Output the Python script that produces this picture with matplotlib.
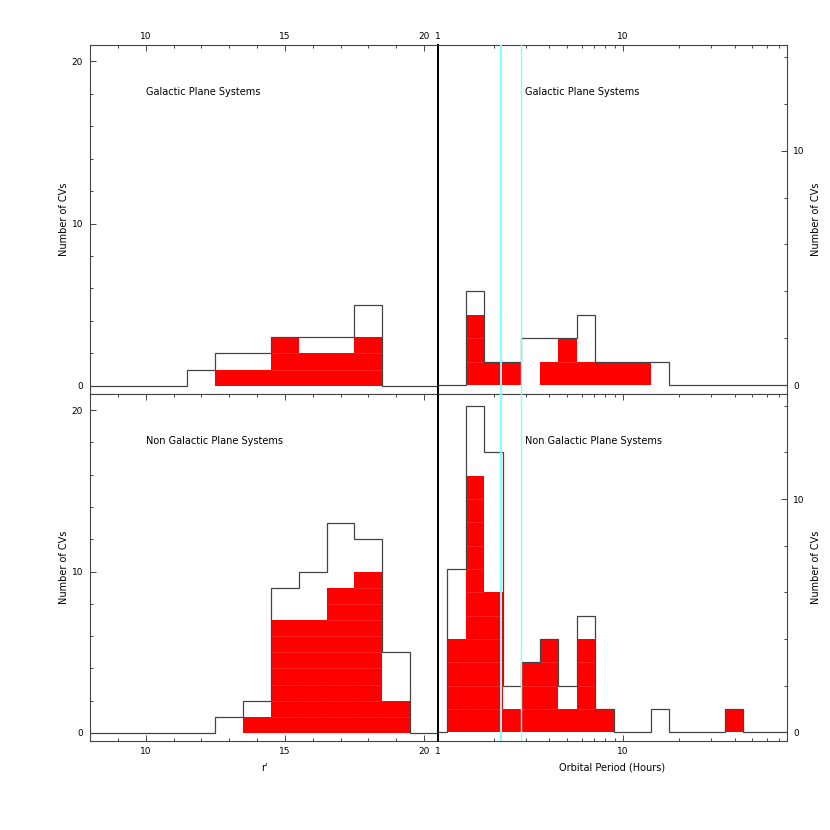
import numpy as np
import matplotlib
matplotlib.use('Agg')
import matplotlib.pyplot as plt
from matplotlib.ticker import FixedLocator, FixedFormatter, MultipleLocator, NullFormatter

plt.rcParams['font.family'] = ['DejaVu Sans']
plt.rcParams['font.size'] = 6.5

# r' magnitude bins (centres, width 1)
mag_bins = [8, 9, 10, 11, 12, 13, 14, 15, 16, 17, 18, 19, 20]
gp_total_mag = [0, 0, 0, 0, 1, 2, 2, 3, 3, 3, 5, 0, 0]
gp_red_mag = [0, 0, 0, 0, 0, 1, 1, 3, 2, 2, 3, 0, 0]
ngp_total_mag = [0, 0, 0, 0, 0, 1, 2, 9, 10, 13, 12, 5, 0]
ngp_red_mag = [0, 0, 0, 0, 0, 0, 1, 7, 7, 9, 10, 2, 0]

# log10(period / hours) bins (centres, width 0.1 dex)
logp_bins = [0.0, 0.1, 0.2, 0.3, 0.4, 0.5, 0.6, 0.7, 0.8, 0.9,
             1.0, 1.1, 1.2, 1.3, 1.4, 1.5, 1.6, 1.7, 1.8, 1.9]
gp_total_p = [0, 0, 4, 1, 1, 2, 2, 2, 3, 1, 1, 1, 1, 0, 0, 0, 0, 0, 0, 0]
gp_red_p = [0, 0, 3, 1, 1, 0, 1, 2, 1, 1, 1, 1, 0, 0, 0, 0, 0, 0, 0, 0]
ngp_total_p = [0, 7, 14, 12, 2, 3, 4, 2, 5, 1, 0, 0, 1, 0, 0, 0, 1, 0, 0, 0]
ngp_red_p = [0, 4, 11, 6, 1, 3, 4, 1, 4, 1, 0, 0, 0, 0, 0, 0, 1, 0, 0, 0]

gap_edges = [2.2, 2.8]
labels = ['Galactic Plane Systems', 'Non Galactic Plane Systems']

FW = 830.0
fig = plt.figure(figsize=(8.3, 8.3), dpi=100)

def px(x0, y0, x1, y1):
    return [x0 / FW, 1 - y1 / FW, (x1 - x0) / FW, (y1 - y0) / FW]

frame = '#444444'

def red_bars(ax, left, width, counts):
    counts = np.array(counts)
    left = np.array(left)
    width = np.array(width)
    m = counts > 0
    ax.bar(left[m], counts[m], width=width[m], align='edge', color='#ff0000',
           edgecolor='none', linewidth=0, zorder=2)
    # faint seams between stacked units
    for k in range(1, counts.max()):
        mk = counts > k
        ax.hlines(np.full(mk.sum(), k), left[mk], left[mk] + width[mk],
                  color='#ff3c3c', linewidth=0.4, zorder=2.5)

def style(ax, top):
    for s in ax.spines.values():
        s.set_color(frame)
        s.set_linewidth(0.8)
    ax.tick_params(which='both', direction='in', colors=frame, labelcolor='black',
                   width=0.7)
    ax.tick_params(which='major', length=4.5)
    ax.tick_params(which='minor', length=2.2)
    if top:
        ax.tick_params(axis='x', which='both', top=True, bottom=False,
                       labeltop=True, labelbottom=False, pad=3)
    else:
        ax.tick_params(axis='x', which='both', top=True, bottom=True,
                       labeltop=False, labelbottom=True, pad=4)

mag_edges = np.arange(7.5, 21.0, 1.0)
logp_edges = np.round(np.arange(-0.05, 2.0, 0.1), 2)

rows = [(45, 394, gp_total_mag, gp_red_mag, gp_total_p, gp_red_p, True),
        (394, 741, ngp_total_mag, ngp_red_mag, ngp_total_p, ngp_red_p, False)]

for i, (y0, y1, tm, rm, tp, rp, top) in enumerate(rows):
    # left panel: r' magnitude
    ax = fig.add_axes(px(90, y0, 438, y1))
    red_bars(ax, np.array(mag_bins) - 0.5, np.ones(len(mag_bins)), rm)
    ax.stairs(tm, mag_edges, color=frame, linewidth=0.9, zorder=3)
    ax.set_xlim(8, 20.5)
    ax.set_ylim(-0.5, 21.0)
    ax.xaxis.set_major_locator(FixedLocator([10, 15, 20]))
    ax.xaxis.set_minor_locator(MultipleLocator(1))
    ax.yaxis.set_major_locator(FixedLocator([0, 10, 20]))
    ax.yaxis.set_minor_locator(MultipleLocator(2))
    style(ax, top)
    ax.tick_params(axis='y', which='both', left=True, right=False, pad=5)
    ax.spines['right'].set_color('black')
    ax.spines['right'].set_linewidth(1.4)
    ax.set_ylabel('Number of CVs', fontsize=7, labelpad=2)
    ax.text(10, 18.1, labels[i], fontsize=7, va='center', ha='left')
    if not top:
        ax.set_xlabel("r'", fontsize=7, labelpad=5)

    # right panel: orbital period
    ax2 = fig.add_axes(px(438, y0, 786.5, y1))
    lo = 10 ** (np.array(logp_bins) - 0.05)
    hi = 10 ** (np.array(logp_bins) + 0.05)
    red_bars(ax2, lo, hi - lo, rp)
    ax2.stairs(tp, 10 ** logp_edges, color=frame, linewidth=0.9, zorder=3)
    ax2.axvline(gap_edges[0], color='#80ffff', linewidth=1.4, zorder=4)
    ax2.axvline(gap_edges[1], color='#80ffff', linewidth=1.0, zorder=4)
    ax2.set_xscale('log')
    ax2.set_xlim(1, 10 ** 1.883)
    ax2.set_ylim(-0.37, 14.5)
    ax2.xaxis.set_major_locator(FixedLocator([1, 10]))
    ax2.xaxis.set_major_formatter(FixedFormatter(['1', '10']))
    ax2.xaxis.set_minor_locator(FixedLocator([2, 3, 4, 5, 6, 7, 8, 9,
                                              20, 30, 40, 50, 60, 70]))
    ax2.xaxis.set_minor_formatter(NullFormatter())
    ax2.yaxis.set_major_locator(FixedLocator([0, 10]))
    ax2.yaxis.set_minor_locator(MultipleLocator(2))
    style(ax2, top)
    ax2.tick_params(axis='y', which='both', left=False, right=True,
                    labelleft=False, labelright=True, pad=5)
    ax2.spines['left'].set_color('black')
    ax2.spines['left'].set_linewidth(1.4)
    ax2.yaxis.set_label_position('right')
    ax2.set_ylabel('Number of CVs', fontsize=7, labelpad=4)
    ax2.text(10 ** 0.469, 12.5, labels[i], fontsize=7, va='center', ha='left')
    if not top:
        ax2.set_xlabel('Orbital Period (Hours)', fontsize=7, labelpad=5)

fig.savefig('out.png', dpi=100)
